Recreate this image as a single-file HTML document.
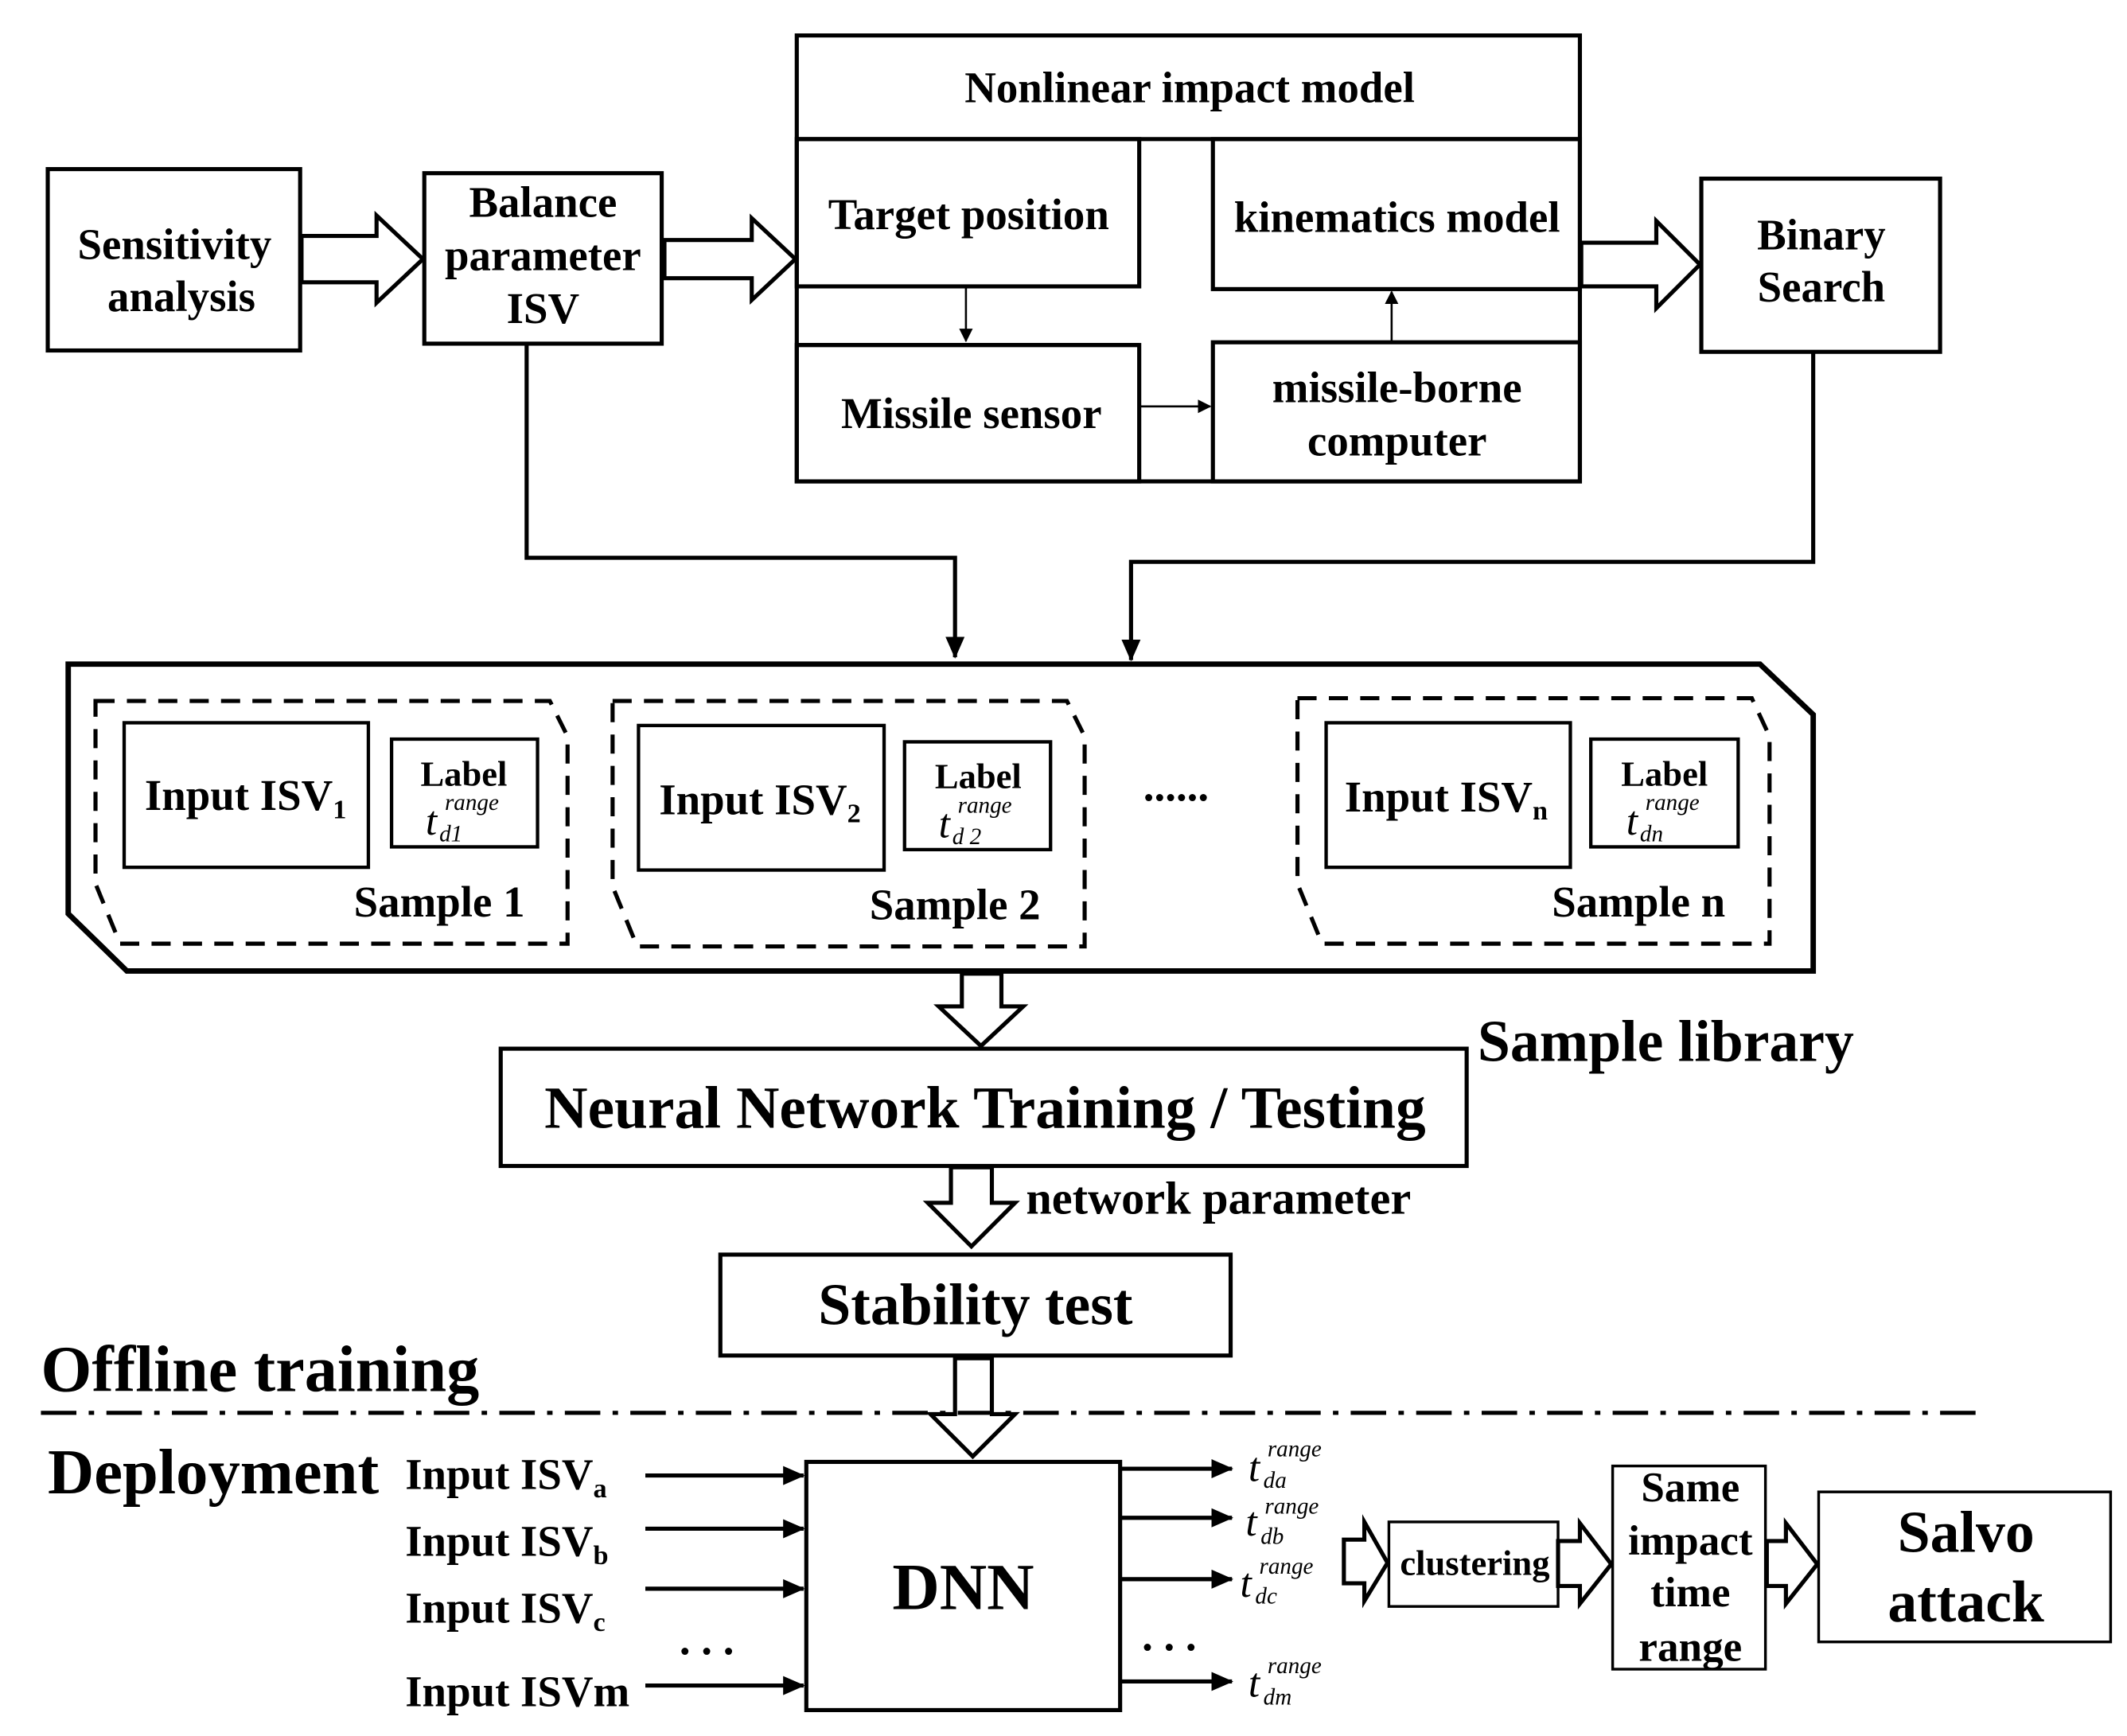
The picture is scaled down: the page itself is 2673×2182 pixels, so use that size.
<!DOCTYPE html>
<html><head><meta charset="utf-8"><style>
html,body{margin:0;padding:0;background:#fff}
svg{display:block}
text{font-family:"Liberation Serif",serif;font-weight:bold;fill:#000}
.i{font-style:italic;font-weight:normal}
</style></head><body>
<svg width="2673" height="2182" viewBox="0 0 1559 1273" preserveAspectRatio="none" xmlns="http://www.w3.org/2000/svg">
<defs>
<marker id="a" markerWidth="10" markerHeight="10" refX="9" refY="5" orient="auto" markerUnits="userSpaceOnUse" viewBox="0 0 10 10"><path d="M0,0 L10,5 L0,10 z" fill="#000"/></marker>
<marker id="b" markerWidth="16" markerHeight="16" refX="15" refY="8" orient="auto" markerUnits="userSpaceOnUse" viewBox="0 0 16 16"><path d="M0,1 L16,8 L0,15 z" fill="#000"/></marker>
</defs>
<g fill="none" stroke="#000" stroke-width="3">
<rect x="35" y="124" width="185" height="133"/>
<rect x="311" y="127" width="174" height="125"/>
<rect x="584" y="26" width="574" height="327"/>
<line x1="584" y1="102" x2="1158" y2="102"/>
<rect x="584" y="102" width="251" height="108"/>
<rect x="889" y="102" width="269" height="110"/>
<rect x="584" y="253" width="251" height="100"/>
<rect x="889" y="251" width="269" height="102"/>
<line x1="584" y1="253" x2="835" y2="253"/>
<rect x="1247" y="131" width="175" height="127"/>
<path d="M50,487 H1290 L1329,524 V712 H93 L50,670 Z" stroke-width="4"/>
<rect x="367" y="769" width="708" height="86"/>
<rect x="528" y="920" width="374" height="74"/>
<rect x="591" y="1072" width="230" height="182"/>
<rect x="1018" y="1116" width="124" height="62" stroke-width="2"/>
<rect x="1182" y="1075" width="112" height="149" stroke-width="2"/>
<rect x="1333" y="1094" width="214" height="110" stroke-width="2"/>
</g>
<g fill="none" stroke="#000" stroke-width="2.5">
<rect x="91" y="530" width="179" height="106"/>
<rect x="287" y="542" width="107" height="79"/>
<rect x="468" y="532" width="180" height="106"/>
<rect x="663" y="544" width="107" height="79"/>
<rect x="972" y="530" width="179" height="106"/>
<rect x="1166" y="542" width="108" height="79"/>
</g>
<g fill="none" stroke="#000" stroke-width="3" stroke-dasharray="14,9">
<path d="M70,514 H403 L416,540 V692 H88 L70,648 Z"/>
<path d="M449,514 H782 L795,540 V694 H467 L449,650 Z"/>
<path d="M951,512 H1284 L1297,540 V692 H969 L951,648 Z"/>
</g>
<g fill="#fff" stroke="#000" stroke-width="3">
<path d="M221,173 H276 V158 L310,190 L276,222 V207 H221 Z"/>
<path d="M487,176 H551 V160 L583,190 L551,220 V204 H487 Z"/>
<path d="M1159,178 H1214 V162 L1246,194 L1214,226 V210 H1159 Z"/>
<path d="M705,714 V738 H688 L719,767 L750,738 H734 V714 Z"/>
<path d="M697,856 V882 H680 L712,914 L744,882 H727 V856 Z"/>
<path d="M700,996 V1037 H682 L713,1068 L744,1037 H727 V996 Z"/>
<path d="M985,1129 H1000 V1116 L1017,1146 L1000,1174 V1161 H985 Z"/>
<path d="M1142,1130 H1158 V1117 L1181,1147 L1158,1176 V1163 H1142 Z"/>
<path d="M1295,1130 H1309 V1117 L1332,1147 L1309,1176 V1163 H1295 Z"/>
</g>
<g fill="none" stroke="#000" stroke-width="3">
<path d="M386,252 V409 H700 V482" marker-end="url(#b)"/>
<path d="M1329,258 V412 H829 V484" marker-end="url(#b)"/>
<path d="M473,1082 H589" marker-end="url(#b)"/>
<path d="M473,1121 H589" marker-end="url(#b)"/>
<path d="M473,1165 H589" marker-end="url(#b)"/>
<path d="M473,1236 H589" marker-end="url(#b)"/>
<path d="M822,1077 H903" marker-end="url(#b)"/>
<path d="M822,1113 H903" marker-end="url(#b)"/>
<path d="M822,1158 H903" marker-end="url(#b)"/>
<path d="M822,1233 H903" marker-end="url(#b)"/>
</g>
<g stroke="#000" stroke-width="1.5" fill="none">
<path d="M708,210 V250" marker-end="url(#a)"/>
<path d="M835,298 H887" marker-end="url(#a)"/>
<path d="M1020,251 V214" marker-end="url(#a)"/>
</g>
<line x1="30" y1="1036" x2="1455" y2="1036" stroke="#000" stroke-width="3" stroke-dasharray="26,9,4,9"/>
<g font-size="32" text-anchor="middle">
<text x="128" y="190">Sensitivity</text><text x="133" y="228">analysis</text>
<text x="398" y="159">Balance</text><text x="398" y="198">parameter</text><text x="398" y="237">ISV</text>
<text x="872" y="75">Nonlinear impact model</text>
<text x="710" y="168">Target position</text>
<text x="1024" y="170">kinematics model</text>
<text x="712" y="314">Missile sensor</text>
<text x="1024" y="295">missile-borne</text><text x="1024" y="334">computer</text>
<text x="1335" y="183">Binary</text><text x="1335" y="221">Search</text>
<text x="340" y="576" font-size="26">Label</text>
<text x="717" y="578" font-size="26">Label</text>
<text x="1220" y="576" font-size="26">Label</text>
<text x="322" y="672">Sample 1</text>
<text x="700" y="674">Sample 2</text>
<text x="1201" y="672">Sample n</text>
<text x="180" y="594">Input ISV<tspan font-size="20" dy="6">1</tspan></text>
<text x="557" y="597">Input ISV<tspan font-size="20" dy="6">2</tspan></text>
<text x="1060" y="595">Input ISV<tspan font-size="20" dy="6">n</tspan></text>
<text x="862" y="587">......</text>
<text x="722" y="827" font-size="44">Neural Network Training / Testing</text>
<text x="715" y="971" font-size="43">Stability test</text>
<text x="706" y="1180" font-size="48">DNN</text>
<text x="1081" y="1155" font-size="26">clustering</text>
<text x="1239" y="1101" font-size="31">Same</text><text x="1239" y="1140" font-size="31">impact</text>
<text x="1239" y="1178" font-size="31">time</text><text x="1239" y="1218" font-size="31">range</text>
<text x="1441" y="1138" font-size="43">Salvo</text><text x="1441" y="1189" font-size="43">attack</text>
<text x="518" y="1213">. . .</text>
<text x="857" y="1210">. . .</text>
</g>
<g font-size="32">
<text x="1083" y="778" font-size="43">Sample library</text>
<text x="752" y="890" font-size="34">network parameter</text>
<text x="30" y="1020" font-size="48">Offline training</text>
<text x="35" y="1095" font-size="47">Deployment</text>
<text x="297" y="1092">Input ISV<tspan font-size="20" dy="6">a</tspan></text>
<text x="297" y="1141">Input ISV<tspan font-size="20" dy="6">b</tspan></text>
<text x="297" y="1190">Input ISV<tspan font-size="20" dy="6">c</tspan></text>
<text x="297" y="1251">Input ISVm</text>
</g>
<g>
<text class="i" x="312" y="612" font-size="30">t</text><text class="i" x="326" y="594" font-size="17">range</text><text class="i" x="322" y="617" font-size="17">d1</text>
<text class="i" x="688" y="614" font-size="30">t</text><text class="i" x="702" y="596" font-size="17">range</text><text class="i" x="698" y="619" font-size="17">d 2</text>
<text class="i" x="1192" y="612" font-size="30">t</text><text class="i" x="1206" y="594" font-size="17">range</text><text class="i" x="1202" y="617" font-size="17">dn</text>
<text class="i" x="915" y="1086" font-size="30">t</text><text class="i" x="929" y="1068" font-size="17">range</text><text class="i" x="926" y="1091" font-size="17">da</text>
<text class="i" x="913" y="1126" font-size="30">t</text><text class="i" x="927" y="1110" font-size="17">range</text><text class="i" x="924" y="1132" font-size="17">db</text>
<text class="i" x="909" y="1171" font-size="30">t</text><text class="i" x="923" y="1154" font-size="17">range</text><text class="i" x="920" y="1176" font-size="17">dc</text>
<text class="i" x="915" y="1244" font-size="30">t</text><text class="i" x="929" y="1227" font-size="17">range</text><text class="i" x="926" y="1250" font-size="17">dm</text>
</g>
</svg>
</body></html>
